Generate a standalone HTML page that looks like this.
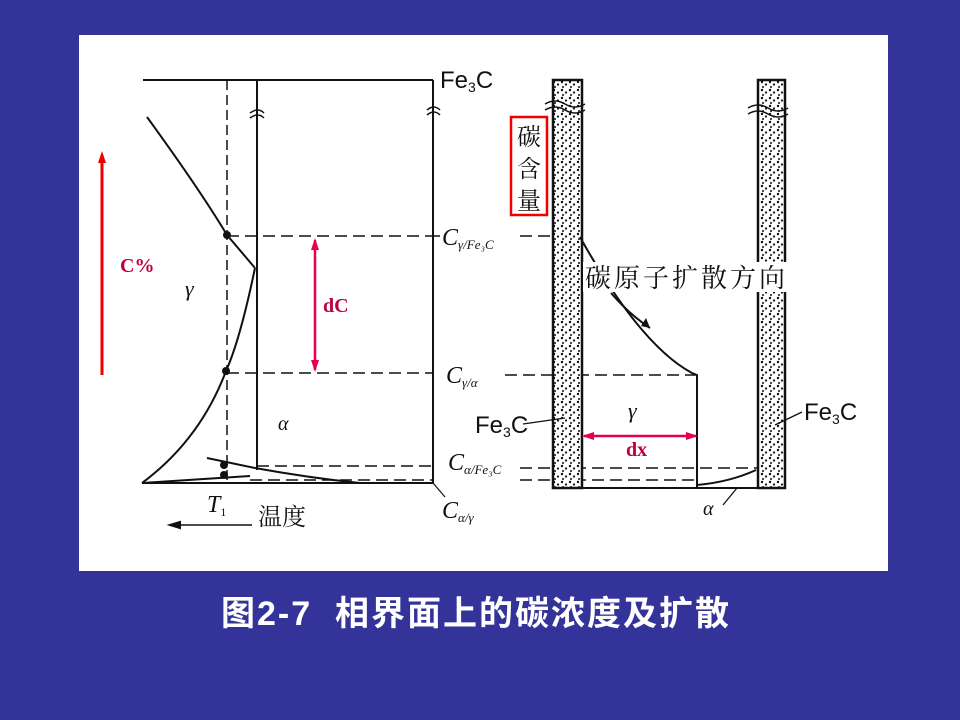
<!DOCTYPE html>
<html><head><meta charset="utf-8"><style>
body{margin:0;width:960px;height:720px;background:#333399;overflow:hidden;position:relative;font-family:"Liberation Serif","Noto Serif CJK SC",serif}
#panel{position:absolute;left:79px;top:35px;width:809px;height:536px;background:#fff}
#cap{position:absolute;left:0;width:952px;top:586px;text-align:center;color:#fff;font:bold 34px "Liberation Sans","Noto Sans CJK SC",sans-serif;letter-spacing:2px}
</style></head><body>
<div id="panel"></div>
<svg width="960" height="720" style="position:absolute;left:0;top:0">
<defs>
<pattern id="dots" width="8" height="8" patternUnits="userSpaceOnUse">
<rect width="8" height="8" fill="#fff"/>
<circle cx="2" cy="2" r="1.2" fill="#111"/><circle cx="6" cy="4.5" r="1.1" fill="#111"/><circle cx="3" cy="7" r="1" fill="#111"/>
</pattern>
<marker id="ar" markerUnits="userSpaceOnUse" markerWidth="14" markerHeight="10" refX="10" refY="5" orient="auto"><path d="M0,1 L12,5 L0,9z" fill="#e6004c"/></marker>
<marker id="as" markerUnits="userSpaceOnUse" markerWidth="14" markerHeight="10" refX="2" refY="5" orient="auto"><path d="M12,1 L0,5 L12,9z" fill="#e6004c"/></marker>
<marker id="ar2" markerUnits="userSpaceOnUse" markerWidth="14" markerHeight="12" refX="8" refY="6" orient="auto"><path d="M0,2 L12,6 L0,10z" fill="#e00"/></marker>
</defs>
<g stroke="#111" fill="none" stroke-width="2">
<line x1="143" y1="80" x2="433" y2="80"/>
<line x1="227" y1="80" x2="227" y2="480" stroke-dasharray="10,5" stroke-width="1.5"/>
<line x1="257" y1="80" x2="257" y2="470"/>
<line x1="433" y1="80" x2="433" y2="483"/>
<line x1="142" y1="483" x2="433" y2="483"/>
<path d="M147,117 Q200,190 227,235 L255,268"/>
<path d="M255,268 Q240,340 226,371 Q200,440 142,483"/>
<path d="M207,458 L255,468 Q310,478 360,483" />
<path d="M142,483 L250,476"/>
<g stroke-dasharray="12,6" stroke-width="1.5">
<line x1="227" y1="236" x2="433" y2="236"/><line x1="227" y1="373" x2="433" y2="373"/>
<line x1="257" y1="466" x2="433" y2="466"/><line x1="250" y1="480" x2="433" y2="480"/>
<line x1="433" y1="236" x2="440" y2="236"/>
<line x1="520" y1="236" x2="553" y2="236"/>
<line x1="505" y1="375" x2="697" y2="375"/>
<line x1="520" y1="468" x2="758" y2="468"/>
<line x1="520" y1="480" x2="697" y2="480"/>
</g>
<path d="M250,113 q8,-6 14,0 M250,118 q8,-6 14,0 M427,110 q7,-6 13,0 M427,115 q7,-6 13,0" stroke-width="1.5"/>
<line x1="170" y1="525" x2="252" y2="525" stroke-width="1.5"/>
<path d="M170,525 l10,-3 v6z" fill="#111"/>
<line x1="433" y1="483" x2="445" y2="497" stroke-width="1.2"/>
</g>
<g fill="#111"><circle cx="227" cy="235" r="4"/><circle cx="226" cy="371" r="4"/><circle cx="224" cy="465" r="4"/><circle cx="224" cy="475" r="4"/></g>
<line x1="102" y1="375" x2="102" y2="155" stroke="#e00" stroke-width="3" marker-end="url(#ar2)"/>
<line x1="315" y1="240" x2="315" y2="370" stroke="#e6004c" stroke-width="2.5" marker-end="url(#ar)" marker-start="url(#as)"/>
<text x="120" y="272" fill="#c00040" font-weight="bold" font-size="20">C%</text>
<text x="323" y="312" fill="#c00040" font-weight="bold" font-size="20">dC</text>
<g font-family="Liberation Sans,sans-serif" fill="#111">
<text x="440" y="88" font-size="24">Fe<tspan font-size="14" dy="4">3</tspan><tspan dy="-4">C</tspan></text>
</g>
<g font-style="italic" fill="#111" font-size="24">
<text x="442" y="245">C<tspan font-size="13" dy="4">γ/Fe₃C</tspan></text>
<text x="446" y="383">C<tspan font-size="13" dy="4">γ/α</tspan></text>
<text x="448" y="470">C<tspan font-size="13" dy="4">α/Fe₃C</tspan></text>
<text x="442" y="518">C<tspan font-size="13" dy="4">α/γ</tspan></text>
<text x="185" y="296" font-size="22">γ</text>
<text x="278" y="430" font-size="20">α</text>
<text x="207" y="512">T<tspan font-size="12" font-style="normal" dy="4">1</tspan></text>
<text x="628" y="418" font-size="22">γ</text>
<text x="703" y="515" font-size="20">α</text>
</g>
<text x="258" y="525" font-size="24" fill="#111">温度</text>
<rect x="553" y="80" width="29" height="408" fill="url(#dots)" stroke="#111" stroke-width="2.5"/>
<rect x="758" y="80" width="27" height="408" fill="url(#dots)" stroke="#111" stroke-width="2.5"/>
<path d="M545,104 q10,-6 20,0 t20,0 M545,110 q10,-6 20,0 t20,0 M748,108 q10,-6 20,0 t20,0 M748,114 q10,-6 20,0 t20,0" stroke="#111" fill="none" stroke-width="1.5"/>
<g stroke="#111" fill="none" stroke-width="2">
<line x1="553" y1="488" x2="785" y2="488"/>
<path d="M580,237 Q640,345 692,373 L697,375 L697,488"/>
<path d="M697,485 Q730,482 756,470"/>
<path d="M611,293 Q630,315 650,328"/>
<line x1="523" y1="424" x2="565" y2="418" stroke-width="1.3"/>
<line x1="802" y1="412" x2="775" y2="425" stroke-width="1.3"/>
<line x1="723" y1="505" x2="737" y2="488" stroke-width="1.3"/>
</g>
<path d="M650,328 l-9,-2 l5,-8z" fill="#111"/>
<rect x="583" y="262" width="204" height="30" fill="#fff"/>
<text x="585" y="287" font-size="26" fill="#111" textLength="200">碳原子扩散方向</text>
<rect x="511" y="117" width="36" height="98" fill="#fff" stroke="#e00" stroke-width="2.5"/>
<text x="529" y="145" font-size="24" fill="#111" text-anchor="middle">碳</text>
<text x="529" y="177" font-size="24" fill="#111" text-anchor="middle">含</text>
<text x="529" y="209" font-size="24" fill="#111" text-anchor="middle">量</text>
<g font-family="Liberation Sans,sans-serif" fill="#111" font-size="24">
<text x="475" y="433">Fe<tspan font-size="14" dy="4">3</tspan><tspan dy="-4">C</tspan></text>
<text x="804" y="420">Fe<tspan font-size="14" dy="4">3</tspan><tspan dy="-4">C</tspan></text>
</g>
<line x1="584" y1="436" x2="696" y2="436" stroke="#e6004c" stroke-width="2.5" marker-end="url(#ar)" marker-start="url(#as)"/>
<text x="626" y="456" fill="#c00040" font-weight="bold" font-size="20">dx</text>
</svg>
<div id="cap">图2-7&nbsp; 相界面上的碳浓度及扩散</div>
</body></html>
